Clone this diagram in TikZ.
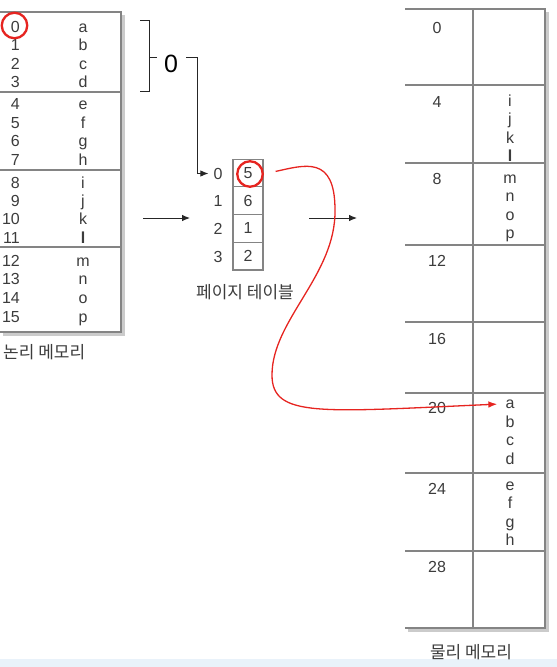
\documentclass[tikz,border=0pt]{standalone}
\usepackage{fontspec}
\setmainfont{Liberation Sans}
\newfontfamily\kfont{Noto Sans CJK KR}
\usetikzlibrary{arrows.meta}
\definecolor{linegray}{HTML}{848484}
\definecolor{textgray}{HTML}{3C3C3C}
\definecolor{shadowgray}{HTML}{CBCBCB}
\definecolor{markred}{HTML}{E62420}
\definecolor{stripblue}{HTML}{E9F2FA}
\tikzset{
	cell/.style={text=textgray, font=\fontsize{16}{16}\selectfont, inner sep=0pt, anchor=base},
	klabel/.style={text=textgray, font=\kfont\fontsize{17}{17}\selectfont, inner sep=0pt},
	frame/.style={draw=linegray, line width=1.05pt},
	ring/.style={draw=markred, line width=2.3pt, circle, minimum size=25.5pt, inner sep=0pt},
	slot/.style={draw=linegray, line width=1.05pt, minimum width=30pt, minimum height=27.75pt, inner sep=0pt, text=textgray, font=\fontsize{16}{16}\selectfont},
	pointer/.style={-{Latex[length=8pt,width=6.5pt]}, line width=0.9pt, draw=black!85},
	redpointer/.style={-{Latex[length=9pt,width=6.5pt]}, line width=1.3pt, draw=markred},
}
\begin{document}
\begin{tikzpicture}[x=1pt, y=-1pt]
	\useasboundingbox ( 0, 0 ) rectangle ( 557, 667 );
	\fill [stripblue] ( 0, 659 ) rectangle ( 557, 667 );

	% logical memory
	\fill [shadowgray] ( 3, 15 ) rectangle ( 124.5, 335.5 );
	\filldraw [frame, fill=white] ( -2, 12 ) rectangle ( 121, 332 );
	\draw [frame] ( -2, 92 ) -- ( 121, 92 );
	\draw [frame] ( -2, 170 ) -- ( 121, 170 );
	\draw [frame] ( -2, 247 ) -- ( 121, 247 );

	\node [cell, anchor=base east] (lnum0) at ( 20, 32 ) {0};   \node [cell] (lchr0) at ( 83, 32 ) {a};
	\node [cell, anchor=base east] (lnum1) at ( 20, 50 ) {1};   \node [cell] (lchr1) at ( 83, 50 ) {b};
	\node [cell, anchor=base east] (lnum2) at ( 20, 69 ) {2};   \node [cell] (lchr2) at ( 83, 69 ) {c};
	\node [cell, anchor=base east] (lnum3) at ( 20, 87 ) {3};   \node [cell] (lchr3) at ( 83, 87 ) {d};
	\node [cell, anchor=base east] (lnum4) at ( 20, 109 ) {4};  \node [cell] (lchr4) at ( 83, 109 ) {e};
	\node [cell, anchor=base east] (lnum5) at ( 20, 128 ) {5};  \node [cell] (lchr5) at ( 83, 128 ) {f};
	\node [cell, anchor=base east] (lnum6) at ( 20, 146 ) {6};  \node [cell] (lchr6) at ( 83, 146 ) {g};
	\node [cell, anchor=base east] (lnum7) at ( 20, 165 ) {7};  \node [cell] (lchr7) at ( 83, 165 ) {h};
	\node [cell, anchor=base east] (lnum8) at ( 20, 188 ) {8};  \node [cell] (lchr8) at ( 83, 188 ) {i};
	\node [cell, anchor=base east] (lnum9) at ( 20, 206 ) {9};  \node [cell] (lchr9) at ( 83, 206 ) {j};
	\node [cell, anchor=base east] (lnum10) at ( 20, 224 ) {10}; \node [cell] (lchr10) at ( 83, 224 ) {k};
	\node [cell, anchor=base east] (lnum11) at ( 20, 243 ) {11}; \node [cell] (lchr11) at ( 83, 243 ) {\textbf{l}};
	\node [cell, anchor=base east] (lnum12) at ( 20, 266 ) {12}; \node [cell] (lchr12) at ( 83, 266 ) {m};
	\node [cell, anchor=base east] (lnum13) at ( 20, 284 ) {13}; \node [cell] (lchr13) at ( 83, 284 ) {n};
	\node [cell, anchor=base east] (lnum14) at ( 20, 303 ) {14}; \node [cell] (lchr14) at ( 83, 303 ) {o};
	\node [cell, anchor=base east] (lnum15) at ( 20, 322 ) {15}; \node [cell] (lchr15) at ( 83, 322 ) {p};

	\node [ring] (ring0) at ( 14.5, 25.5 ) {};
	\node [klabel, anchor=west] (lname) at ( 3, 352 ) {논리 메모리};

	% page number bracket
	\draw [line width=0.9pt, draw=black!85] ( 140, 20 ) -- ( 149, 20 ) -- ( 149, 91 ) -- ( 140, 91 );
	\draw [line width=0.9pt, draw=black!85] ( 149, 57 ) -- ( 157, 57 );
	\node [text=black, font=\fontsize{25}{25}\selectfont, inner sep=0pt] (pagenum) at ( 171, 64 ) {0};
	\coordinate (tap) at ( 186, 57 );

	% page table
	\node [slot] (pt0) at ( 248, 172.9 ) {5};
	\node [slot] (pt1) at ( 248, 200.6 ) {6};
	\node [slot] (pt2) at ( 248, 228.4 ) {1};
	\node [slot] (pt3) at ( 248, 256.1 ) {2};
	\node [cell, anchor=center] (pidx0) at ( 218, 173.5 ) {0};
	\node [cell, anchor=center] (pidx1) at ( 218, 201.2 ) {1};
	\node [cell, anchor=center] (pidx2) at ( 218, 229 ) {2};
	\node [cell, anchor=center] (pidx3) at ( 218, 256.7 ) {3};
	\node [ring] (ring5) at ( 250, 174 ) {};
	\node [klabel] (ptname) at ( 245, 292 ) {페이지 테이블};

	\draw [pointer, shorten >=5pt] (tap) -- ( 197, 57 ) |- (pidx0.west);

	% arrows between blocks
	\coordinate (inL) at ( 143, 218 );
	\coordinate (inR) at ( 190, 218 );
	\coordinate (outL) at ( 309, 218 );
	\coordinate (outR) at ( 357, 218 );
	\draw [pointer] (inL) -- (inR);
	\draw [pointer] (outL) -- (outR);

	% physical memory
	\fill [shadowgray] ( 408, 12 ) rectangle ( 548.5, 631.5 );
	\fill [white] ( 405, 9 ) rectangle ( 545, 628 );
	\draw [frame] ( 405, 9 ) -- ( 545, 9 ) -- ( 545, 628 ) -- ( 405, 628 );
	\draw [frame] ( 473, 9 ) -- ( 473, 628 );
	\draw [frame] ( 405, 85 ) -- ( 545, 85 );
	\draw [frame] ( 405, 163 ) -- ( 545, 163 );
	\draw [frame] ( 405, 245 ) -- ( 545, 245 );
	\draw [frame] ( 405, 322 ) -- ( 545, 322 );
	\draw [frame] ( 405, 393 ) -- ( 545, 393 );
	\draw [frame] ( 405, 473 ) -- ( 545, 473 );
	\draw [frame] ( 405, 551 ) -- ( 545, 551 );

	\node [cell] (paddr0) at ( 437, 33 ) {0};
	\node [cell] (paddr4) at ( 437, 107 ) {4};
	\node [cell] (paddr8) at ( 437, 184 ) {8};
	\node [cell] (paddr12) at ( 437, 266 ) {12};
	\node [cell] (paddr16) at ( 437, 344 ) {16};
	\node [cell] (paddr20) at ( 437, 413 ) {20};
	\node [cell] (paddr24) at ( 437, 494 ) {24};
	\node [cell] (paddr28) at ( 437, 572 ) {28};

	\node [cell] (pchr8) at ( 510, 106 ) {i};
	\node [cell] (pchr9) at ( 510, 124.5 ) {j};
	\node [cell] (pchr10) at ( 510, 143 ) {k};
	\node [cell] (pchr11) at ( 510, 161.5 ) {\textbf{l}};
	\node [cell] (pchr12) at ( 510, 183 ) {m};
	\node [cell] (pchr13) at ( 510, 201.5 ) {n};
	\node [cell] (pchr14) at ( 510, 220 ) {o};
	\node [cell] (pchr15) at ( 510, 238.5 ) {p};
	\node [cell] (pchr0) at ( 510, 408 ) {a};
	\node [cell] (pchr1) at ( 510, 427 ) {b};
	\node [cell] (pchr2) at ( 510, 445.5 ) {c};
	\node [cell] (pchr3) at ( 510, 464 ) {d};
	\node [cell] (pchr4) at ( 510, 490 ) {e};
	\node [cell] (pchr5) at ( 510, 508.5 ) {f};
	\node [cell] (pchr6) at ( 510, 527 ) {g};
	\node [cell] (pchr7) at ( 510, 545.5 ) {h};

	\node [klabel] (pname) at ( 471, 652 ) {물리 메모리};

	% page 0 -> frame 5
	\draw [redpointer, shorten <=12pt, shorten >=8pt] (ring5.east) .. controls ( 305, 165 ) and ( 335, 155 ) .. ( 335, 210 )
		.. controls ( 336, 275 ) and ( 272, 320 ) .. ( 272, 375 )
		.. controls ( 272, 418 ) and ( 320, 412 ) .. (pchr0.west);
\end{tikzpicture}
\end{document}
